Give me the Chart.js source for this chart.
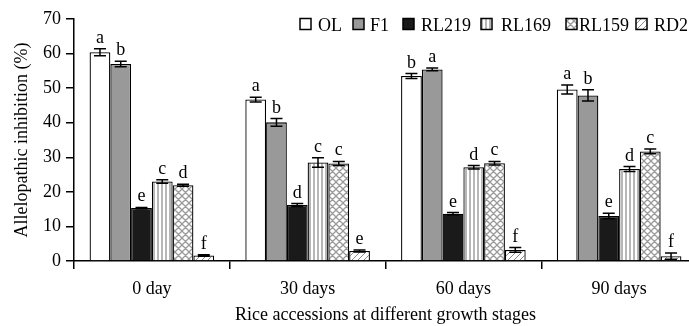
<!DOCTYPE html>
<html><head><meta charset="utf-8">
<script src="https://cdn.jsdelivr.net/npm/chart.js@4.4.0/dist/chart.umd.min.js"></script>
<style>html,body{margin:0;padding:0;overflow:hidden;background:#fff}
#wrap{width:700px;height:326px;position:relative}</style>
</head><body><div id="wrap"><canvas id="c"></canvas></div>
<script>
const categories = ['0 day', '30 days', '60 days', '90 days'];
const seriesNames = ['OL', 'F1', 'RL219', 'RL169', 'RL159', 'RD2'];
const yTicks = [0, 10, 20, 30, 40, 50, 60, 70];

const valOL    = [60.4, 46.7, 53.5, 49.6];
const valF1    = [57.0, 40.1, 55.4, 47.9];
const valRL219 = [15.3, 16.2, 13.7, 13.0];
const valRL169 = [23.0, 28.5, 27.1, 26.6];
const valRL159 = [21.9, 28.2, 28.3, 31.7];
const valRD2   = [1.6, 2.9, 3.2, 1.4];

const errOL    = [1.0, 0.7, 0.7, 1.3];
const errF1    = [0.8, 1.1, 0.4, 1.6];
const errRL219 = [0.2, 0.4, 0.3, 0.8];
const errRL169 = [0.5, 1.4, 0.5, 0.7];
const errRL159 = [0.3, 0.6, 0.5, 0.7];
const errRD2   = [0.2, 0.3, 0.7, 0.9];

const letOL    = ['a', 'a', 'b', 'a'];
const letF1    = ['b', 'b', 'a', 'b'];
const letRL219 = ['e', 'd', 'e', 'e'];
const letRL169 = ['c', 'c', 'd', 'd'];
const letRL159 = ['d', 'c', 'c', 'c'];
const letRD2   = ['f', 'e', 'f', 'f'];

const FONT = "'Liberation Serif', 'Times New Roman', serif";
const canvas = document.getElementById('c');
const mainCtx = canvas.getContext('2d');

function mkPattern(type) {
  const s = type === 'v' ? 4 : (type === 'x' ? 7 : 6);
  const c = document.createElement('canvas'); c.width = s; c.height = s;
  const g = c.getContext('2d');
  g.fillStyle = '#fff'; g.fillRect(0, 0, s, s);
  g.lineWidth = 1;
  g.beginPath();
  if (type === 'v') {
    g.strokeStyle = '#6e6e6e';
    g.moveTo(2, 0); g.lineTo(2, s);
  } else if (type === 'x') {
    g.strokeStyle = '#9a9a9a'; g.lineWidth = 1.3;
    g.moveTo(0, s); g.lineTo(s, 0);
    g.moveTo(-1, 1); g.lineTo(1, -1);
    g.moveTo(s - 1, s + 1); g.lineTo(s + 1, s - 1);
    g.moveTo(0, 0); g.lineTo(s, s);
    g.moveTo(-1, s - 1); g.lineTo(1, s + 1);
    g.moveTo(s - 1, -1); g.lineTo(s + 1, 1);
  } else {
    g.strokeStyle = '#8a8a8a';
    g.moveTo(0, s); g.lineTo(s, 0);
    g.moveTo(-1, 1); g.lineTo(1, -1);
    g.moveTo(s - 1, s + 1); g.lineTo(s + 1, s - 1);
  }
  g.stroke();
  return mainCtx.createPattern(c, 'repeat');
}

const fills = ['#ffffff', '#999999', '#1a1a1a', mkPattern('v'), mkPattern('x'), mkPattern('d')];
const values = [valOL, valF1, valRL219, valRL169, valRL159, valRD2];
const errors = [errOL, errF1, errRL219, errRL169, errRL159, errRD2];
const letters = [letOL, letF1, letRL219, letRL169, letRL159, letRD2];

const legendBoxX = [300, 353, 403, 481, 566, 636];
const legendTextX = [318, 370, 421, 501, 579, 654];

const datasets = seriesNames.map((n, i) => ({
  label: n,
  data: values[i],
  errors: errors[i],
  letters: letters[i],
  backgroundColor: fills[i],
  borderColor: '#000',
  borderWidth: 1.3,
  barPercentage: 1.0,
  categoryPercentage: 0.8
}));

const errPlugin = {
  id: 'errbars',
  afterDatasetsDraw(chart) {
    const ctx = chart.ctx, y = chart.scales.y;
    chart.data.datasets.forEach((ds, i) => {
      const meta = chart.getDatasetMeta(i);
      meta.data.forEach((bar, j) => {
        const v = ds.data[j], e = ds.errors[j];
        const yt = y.getPixelForValue(v + e), yb = y.getPixelForValue(v - e);
        const x = bar.x, hw = 6;
        ctx.save();
        ctx.strokeStyle = '#000'; ctx.lineWidth = 1.5;
        ctx.beginPath();
        ctx.moveTo(x, yt); ctx.lineTo(x, yb);
        ctx.moveTo(x - hw, yt); ctx.lineTo(x + hw, yt);
        ctx.moveTo(x - hw, yb); ctx.lineTo(x + hw, yb);
        ctx.stroke();
        ctx.fillStyle = '#000';
        ctx.font = '18px ' + FONT;
        ctx.textAlign = 'center'; ctx.textBaseline = 'alphabetic';
        ctx.fillText(ds.letters[j], x, yt - 6);
        ctx.restore();
      });
    });
  }
};

const legendPlugin = {
  id: 'customLegend',
  afterDraw(chart) {
    const ctx = chart.ctx;
    chart.data.datasets.forEach((ds, i) => {
      ctx.save();
      ctx.fillStyle = ds.backgroundColor;
      ctx.fillRect(legendBoxX[i], 18.5, 11, 11);
      ctx.strokeStyle = '#000'; ctx.lineWidth = 1.5;
      ctx.strokeRect(legendBoxX[i], 18.5, 11, 11);
      ctx.fillStyle = '#000';
      ctx.font = '18px ' + FONT;
      ctx.textAlign = 'left'; ctx.textBaseline = 'alphabetic';
      ctx.fillText(ds.label, legendTextX[i], 31);
      ctx.restore();
    });
  }
};

new Chart(canvas, {
  type: 'bar',
  data: { labels: categories, datasets },
  plugins: [errPlugin, legendPlugin],
  options: {
    responsive: true,
    maintainAspectRatio: false,
    animation: false,
    devicePixelRatio: 1,
    layout: { padding: { top: 19, right: 3, bottom: 0, left: 0 } },
    plugins: { legend: { display: false }, tooltip: { enabled: false } },
    scales: {
      x: {
        offset: true,
        grid: { display: true, drawOnChartArea: false, drawTicks: true, tickLength: 8, color: '#000', lineWidth: 1.5, offset: true },
        border: { display: true, color: '#000', width: 1.5 },
        ticks: { font: { family: FONT, size: 18 }, color: '#000', padding: 9, maxRotation: 0 },
        title: { display: true, text: 'Rice accessions at different growth stages', font: { family: FONT, size: 18 }, color: '#000', padding: { top: 0, bottom: 0 } },
        afterFit: s => { s.height = 65; }
      },
      y: {
        min: 0, max: 70,
        afterBuildTicks: s => { s.ticks = yTicks.map(v => ({ value: v })); },
        grid: { display: true, drawOnChartArea: false, drawTicks: true, tickLength: 8, color: '#000', lineWidth: 1.5 },
        border: { display: true, color: '#000', width: 1.5 },
        ticks: { font: { family: FONT, size: 18 }, color: '#000', padding: 5 },
        title: { display: true, text: 'Allelopathic inhibition (%)', font: { family: FONT, size: 18 }, color: '#000', padding: { top: 11, bottom: 0 } },
        afterFit: s => { s.width = 74; }
      }
    }
  }
});
</script>
</body></html>
